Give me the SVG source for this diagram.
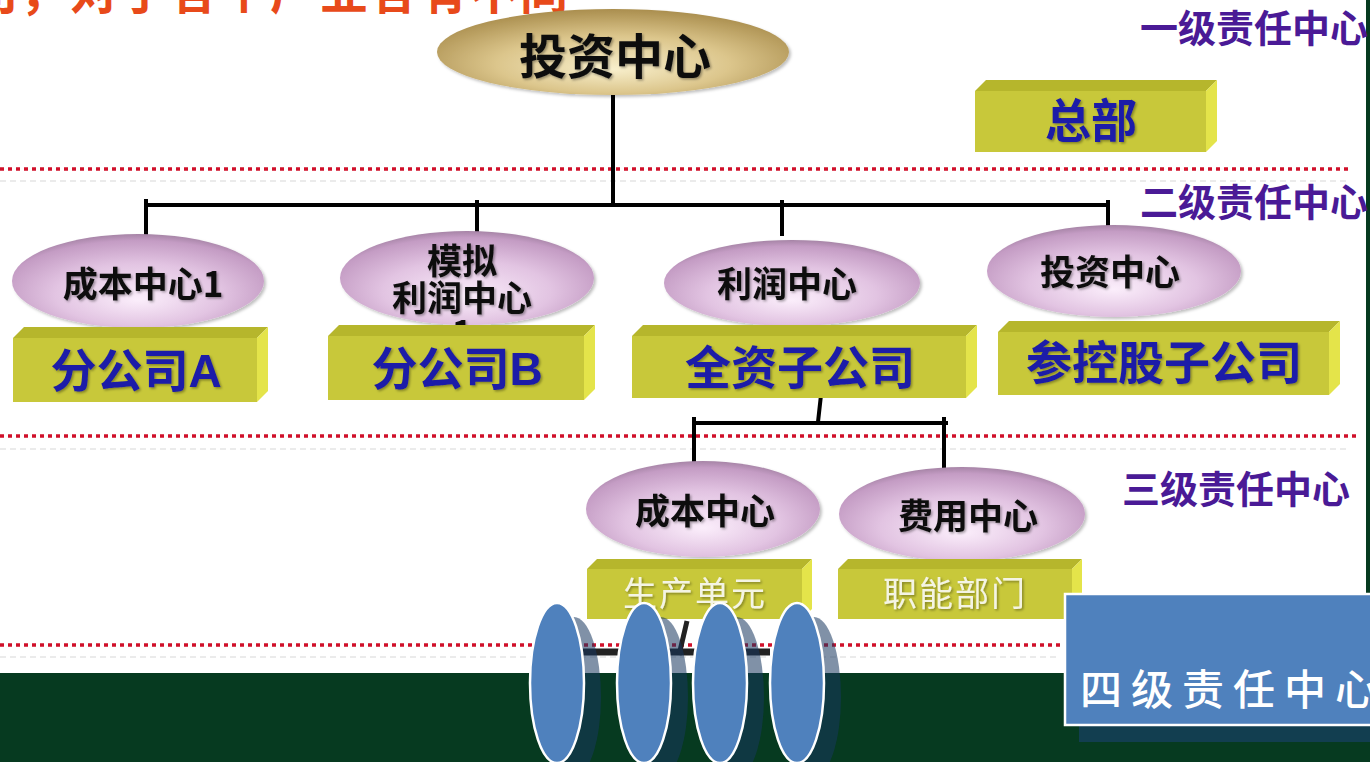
<svg xmlns="http://www.w3.org/2000/svg" width="1370" height="762" viewBox="0 0 1370 762">
<defs>
<radialGradient id="pink" cx="0.5" cy="0.6" r="0.6" fx="0.5" fy="0.7">
<stop offset="0" stop-color="#fbeefb"/>
<stop offset="0.55" stop-color="#e2c4e2"/>
<stop offset="0.9" stop-color="#c49cc4"/>
<stop offset="1" stop-color="#a684a6"/>
</radialGradient>
<radialGradient id="gold" cx="0.5" cy="0.6" r="0.6" fx="0.5" fy="0.7">
<stop offset="0" stop-color="#f8efcc"/>
<stop offset="0.55" stop-color="#dcc68c"/>
<stop offset="1" stop-color="#aa8e4e"/>
</radialGradient>
<filter id="ts" x="-10%" y="-20%" width="120%" height="140%">
<feDropShadow dx="1.5" dy="1.5" stdDeviation="1" flood-color="#000" flood-opacity="0.35"/>
</filter>
<filter id="bs" x="-5%" y="-10%" width="115%" height="130%">
<feDropShadow dx="2" dy="2" stdDeviation="1.5" flood-color="#000" flood-opacity="0.25"/>
</filter>
</defs>
<style>
.ell{fill:url(#pink);filter:url(#bs)}
.top{fill:#b6b62c}
.front{fill:#c8c83a}
.side{fill:#e4e44a}
.et{font-family:"Noto Sans CJK SC","Liberation Sans",sans-serif;font-weight:bold;font-size:35px;fill:#111;text-anchor:middle;filter:url(#ts)}
.big{font-size:48px}
.bt{font-family:"Liberation Sans","Noto Sans CJK SC",sans-serif;font-weight:bold;font-size:46px;fill:#1a1aa8;text-anchor:middle;filter:url(#ts)}
.lt{font-family:"Noto Sans CJK SC",sans-serif;font-size:34px;fill:#f4f4e4;text-anchor:middle;letter-spacing:2px;filter:url(#ts)}
.lvl{font-family:"Noto Sans CJK SC",sans-serif;font-weight:bold;font-size:38px;fill:#4a1a96}
.dot{stroke:#d0102a;stroke-width:3.5;stroke-dasharray:4 4;fill:none}
.faint{stroke:#ebebeb;stroke-width:2;stroke-dasharray:6 4;fill:none}
.conn{stroke:#000;stroke-width:4;fill:none}
.be{fill:#4f81bd;stroke:#fff;stroke-width:2.5}
.bsh{fill:#17375e;fill-opacity:0.55}
</style>
<rect x="0" y="0" width="1370" height="762" fill="#fff"/>
<rect x="0" y="673" width="1370" height="89" fill="#063a20"/>
<rect x="1366" y="0" width="4" height="762" fill="#063a20"/>

<g id="guides">
<line class="faint" x1="0" y1="181" x2="1350" y2="181"/>
<line class="faint" x1="0" y1="449" x2="1350" y2="449"/>
<line class="faint" x1="0" y1="657" x2="1060" y2="657"/>
<line class="dot" x1="0" y1="169" x2="1352" y2="169"/>
<line class="dot" x1="0" y1="436" x2="1356" y2="436"/>
<line class="dot" x1="0" y1="645" x2="1064" y2="645"/>
</g>

<text x="-30" y="9" font-family="Noto Sans CJK SC,sans-serif" font-weight="bold" font-size="48" letter-spacing="2" fill="#e84a1a">司，对于各个产业各有不同</text>

<g id="connectors">
<path class="conn" d="M613,95 V205 M146,205 H1110 M146,199 V235 M477,200 V232 M782,200 V236 M1108,200 V228"/>
<path class="conn" d="M822,386 L818,422 M692,423 H948 M694,417 V465 M944,417 V469"/>
<path d="M583,652 H770" stroke="#222" stroke-width="7" fill="none"/>
<path d="M687,621 L679,655" stroke="#222" stroke-width="5" fill="none"/>
</g>

<g id="level-labels">
<text class="lvl" x="1140" y="42">一级责任中心</text>
<text class="lvl" x="1140" y="216">二级责任中心</text>
<text class="lvl" x="1122" y="503">三级责任中心</text>
</g>

<g id="root">
<ellipse cx="613" cy="52" rx="176" ry="43" fill="url(#gold)" filter="url(#bs)"/>
<text class="et big" x="615" y="74">投资中心</text>
</g>

<g id="hq">
<polygon class="top" points="975,91 986,80 1217,80 1206,91"/>
<rect class="front" x="975" y="91" width="231" height="61"/>
<polygon class="side" points="1206,91 1217,80 1217,141 1206,152"/>
<text class="bt" x="1091" y="137">总部</text>
</g>

<g id="cost1">
<ellipse class="ell" cx="138" cy="281" rx="126" ry="47"/>
<text class="et" x="143" y="297">成本中心1</text>
</g>
<g id="branchA">
<polygon class="top" points="13,338 24,327 268,327 257,338"/>
<rect class="front" x="13" y="338" width="244" height="64"/>
<polygon class="side" points="257,338 268,327 268,391 257,402"/>
<text class="bt" x="136" y="387">分公司A</text>
</g>

<g id="sim-profit">
<ellipse class="ell" cx="467" cy="278" rx="127" ry="47"/>
<text class="et" x="462" y="274">模拟</text>
<text class="et" x="462" y="311">利润中心</text>
<text class="et" x="462" y="345">1</text>
</g>
<g id="branchB">
<polygon class="top" points="328,336 339,325 595,325 584,336"/>
<rect class="front" x="328" y="336" width="256" height="64"/>
<polygon class="side" points="584,336 595,325 595,389 584,400"/>
<text class="bt" x="457" y="385">分公司B</text>
</g>

<g id="profit">
<ellipse class="ell" cx="792" cy="283" rx="128" ry="43"/>
<text class="et" x="787" y="297">利润中心</text>
</g>
<g id="wholly-owned">
<polygon class="top" points="632,336 643,325 977,325 966,336"/>
<rect class="front" x="632" y="336" width="334" height="62"/>
<polygon class="side" points="966,336 977,325 977,387 966,398"/>
<text class="bt" x="800" y="384">全资子公司</text>
</g>

<g id="invest2">
<ellipse class="ell" cx="1114" cy="271" rx="127" ry="46"/>
<text class="et" x="1110" y="285">投资中心</text>
</g>
<g id="holding">
<polygon class="top" points="998,332 1009,321 1340,321 1329,332"/>
<rect class="front" x="998" y="332" width="331" height="63"/>
<polygon class="side" points="1329,332 1340,321 1340,384 1329,395"/>
<text class="bt" x="1164" y="379">参控股子公司</text>
</g>

<g id="cost3">
<ellipse class="ell" cx="703" cy="509" rx="117" ry="48"/>
<text class="et" x="705" y="524">成本中心</text>
</g>
<g id="production">
<polygon class="top" points="587,569 597,559 812,559 802,569"/>
<rect class="front" x="587" y="569" width="215" height="50"/>
<polygon class="side" points="802,569 812,559 812,609 802,619"/>
<text class="lt" x="695" y="606">生产单元</text>
</g>

<g id="expense">
<ellipse class="ell" cx="962" cy="514" rx="123" ry="47"/>
<text class="et" x="968" y="529">费用中心</text>
</g>
<g id="functional">
<polygon class="top" points="838,569 848,559 1082,559 1072,569"/>
<rect class="front" x="838" y="569" width="234" height="50"/>
<polygon class="side" points="1072,569 1082,559 1082,609 1072,619"/>
<text class="lt" x="955" y="606">职能部门</text>
</g>

<g id="discs">
<ellipse class="bsh" cx="574" cy="697" rx="27" ry="80"/>
<ellipse class="be" cx="557" cy="683" rx="27" ry="80"/>
<ellipse class="bsh" cx="661" cy="697" rx="27" ry="80"/>
<ellipse class="be" cx="644" cy="683" rx="27" ry="80"/>
<ellipse class="bsh" cx="737" cy="697" rx="27" ry="80"/>
<ellipse class="be" cx="720" cy="683" rx="27" ry="80"/>
<ellipse class="bsh" cx="814" cy="697" rx="27" ry="80"/>
<ellipse class="be" cx="797" cy="683" rx="27" ry="80"/>
</g>

<g id="level4">
<rect x="1079" y="608" width="300" height="134" fill="#123e50"/>
<rect x="1065" y="594" width="310" height="131" fill="#4f81bd" stroke="#fff" stroke-width="2.5"/>
<text x="1080" y="705" font-family="Noto Sans CJK SC,sans-serif" font-weight="500" font-size="42" letter-spacing="9" fill="#fff">四级责任中心</text>
</g>
</svg>
